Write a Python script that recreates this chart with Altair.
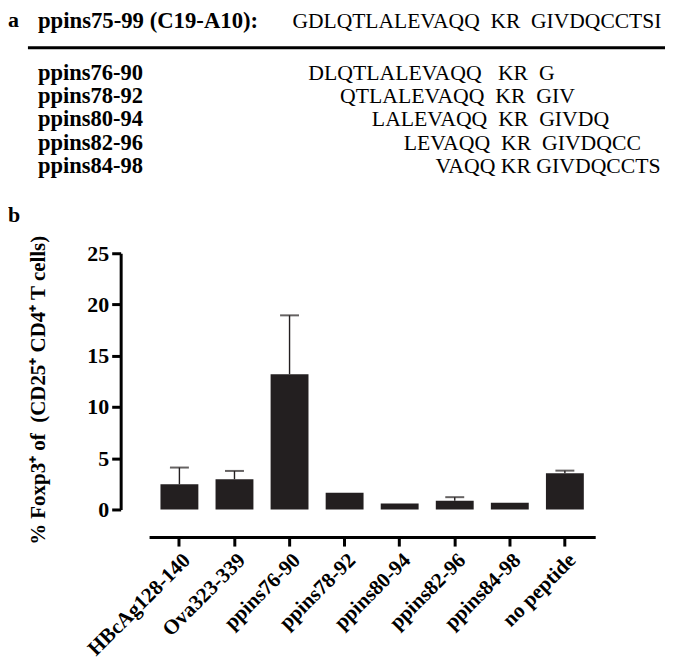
import altair as alt
import pandas as pd

NB = "\u00a0"
FONT = "Liberation Serif"

# ---- panel b data ----
categories = ["HBcAg128-140", "Ova323-339", "ppins76-90", "ppins78-92",
              "ppins80-94", "ppins82-96", "ppins84-98", "no peptide"]
means = [2.46, 2.95, 13.2, 1.62, 0.58, 0.85, 0.65, 3.53]
errors = [1.63, 0.81, 5.74, 0.0, 0.0, 0.35, 0.0, 0.26]
y_tick_values = [0, 5, 10, 15, 20, 25]
y_title = "% Foxp3\u207a of" + NB + NB + "(CD25\u207a CD4\u207a T cells)"

# ---- panel a data ----
header_label = ["ppins75-99 (C19-A10):"]
header_sequence = ["GDLQTLALEVAQQ  KR  GIVDQCCTSI"]
header_start = [75]
peptide_labels = ["ppins76-90", "ppins78-92", "ppins80-94", "ppins82-96", "ppins84-98"]
peptide_sequences = ["DLQTLALEVAQQ   KR  G", "QTLALEVAQQ  KR  GIV",
                     "LALEVAQQ  KR  GIVDQ", "LEVAQQ  KR  GIVDQCC", "VAQQ KR GIVDQCCTS"]
peptide_starts = [76, 78, 80, 82, 84]
peptide_rows = [1, 2, 3, 4, 5]
panel_letters = ["a", "b"]

# ---- frames ----
bar_df = pd.DataFrame({"category": categories, "mean": means, "err": errors})
bar_df["upper"] = bar_df["mean"] + bar_df["err"]
bar_df["has_err"] = bar_df["err"] > 0

rows_df = pd.DataFrame({
    "label": peptide_labels,
    "sequence": [s.replace(" ", NB) for s in peptide_sequences],
    "start": peptide_starts,
    "row": peptide_rows,
})
header_df = pd.DataFrame({
    "label": header_label,
    "sequence": [s.replace(" ", NB) for s in header_sequence],
    "start": header_start,
})

BAR = "#231f20"

x_scale = alt.Scale(range=[141.5, 589], paddingInner=0.312, paddingOuter=0.207)
y_scale = alt.Scale(domain=[0, 25], range=[500, 243], nice=False)

x_axis = alt.Axis(
    offset=-118.3, labelAngle=315, labelAlign="right", labelBaseline="top",
    labelFont=FONT, labelFontSize=21, labelFontWeight="bold", labelColor="black",
    labelPadding=3, labelOverlap=False, labelBound=False,
    tickSize=9, tickWidth=3, tickColor="black",
    domainWidth=3, domainColor="black", grid=False, title=None,
)
y_axis = alt.Axis(
    values=y_tick_values, offset=-113,
    title=y_title, titleFont=FONT, titleFontSize=21, titleFontWeight="bold",
    titleColor="black", titlePadding=38, titleY=380,
    labelFont=FONT, labelFontSize=22, labelFontWeight="bold", labelColor="black",
    labelPadding=3, tickSize=9, tickWidth=3, tickColor="black",
    domainWidth=3, domainColor="black", grid=False,
)

base = alt.Chart(bar_df).encode(
    x=alt.X("category:N", sort=categories, scale=x_scale, axis=x_axis),
)
bars = base.mark_bar(color=BAR).encode(
    y=alt.Y("mean:Q", scale=y_scale, axis=y_axis),
)
err_rules = base.transform_filter("datum.has_err").mark_rule(
    color=BAR, strokeWidth=1.4
).encode(
    y=alt.Y("mean:Q", scale=y_scale, axis=y_axis),
    y2="upper:Q",
)
err_caps = base.transform_filter("datum.has_err").mark_tick(
    color=BAR, size=19, thickness=2
).encode(
    y=alt.Y("upper:Q", scale=y_scale, axis=y_axis),
)
panel_b = alt.layer(bars, err_rules, err_caps)

start_scale = alt.Scale(domain=[75, 84], range=[285.3, 428.7], nice=False, zero=False)
row_scale = alt.Scale(domain=[1, 5], range=[69, 162.3], nice=False, zero=False)

row_labels = alt.Chart(rows_df).mark_text(
    align="left", baseline="alphabetic", font=FONT, fontSize=22.6,
    fontWeight="bold", color="black",
).encode(
    x=alt.value(30),
    y=alt.Y("row:Q", scale=row_scale, axis=None),
    text="label:N",
)
row_seqs = alt.Chart(rows_df).mark_text(
    align="left", baseline="alphabetic", font=FONT, fontSize=21.8, color="black",
).encode(
    x=alt.X("start:Q", scale=start_scale, axis=None),
    y=alt.Y("row:Q", scale=row_scale, axis=None),
    text="sequence:N",
)
head_label = alt.Chart(header_df).mark_text(
    align="left", baseline="alphabetic", font=FONT, fontSize=22.8,
    fontWeight="bold", color="black",
).encode(x=alt.value(30), y=alt.value(17), text="label:N")
head_seq = alt.Chart(header_df).mark_text(
    align="left", baseline="alphabetic", font=FONT, fontSize=21.6, color="black",
).encode(
    x=alt.X("start:Q", scale=start_scale, axis=None),
    y=alt.value(17),
    text="sequence:N",
)
divider = alt.Chart(pd.DataFrame({"k": [0]})).mark_rule(
    color="black", strokeWidth=3
).encode(x=alt.value(20), x2=alt.value(659), y=alt.value(37))

letters_df = pd.DataFrame({"letter": panel_letters})
letter_a = alt.Chart(letters_df[letters_df.letter == "a"]).mark_text(
    align="left", baseline="alphabetic", font=FONT, fontSize=22,
    fontWeight="bold", color="black",
).encode(x=alt.value(0), y=alt.value(16), text="letter:N")
letter_b = alt.Chart(letters_df[letters_df.letter == "b"]).mark_text(
    align="left", baseline="alphabetic", font=FONT, fontSize=22,
    fontWeight="bold", color="black",
).encode(x=alt.value(0), y=alt.value(212), text="letter:N")

chart = alt.layer(
    panel_b, row_labels, row_seqs, head_label, head_seq, divider, letter_a, letter_b
).resolve_scale(
    x="independent", y="independent"
).properties(
    width=659, height=646, padding=0
).configure_view(stroke=None)

chart.save("out.html", embed_options={"renderer": "svg", "actions": False})
